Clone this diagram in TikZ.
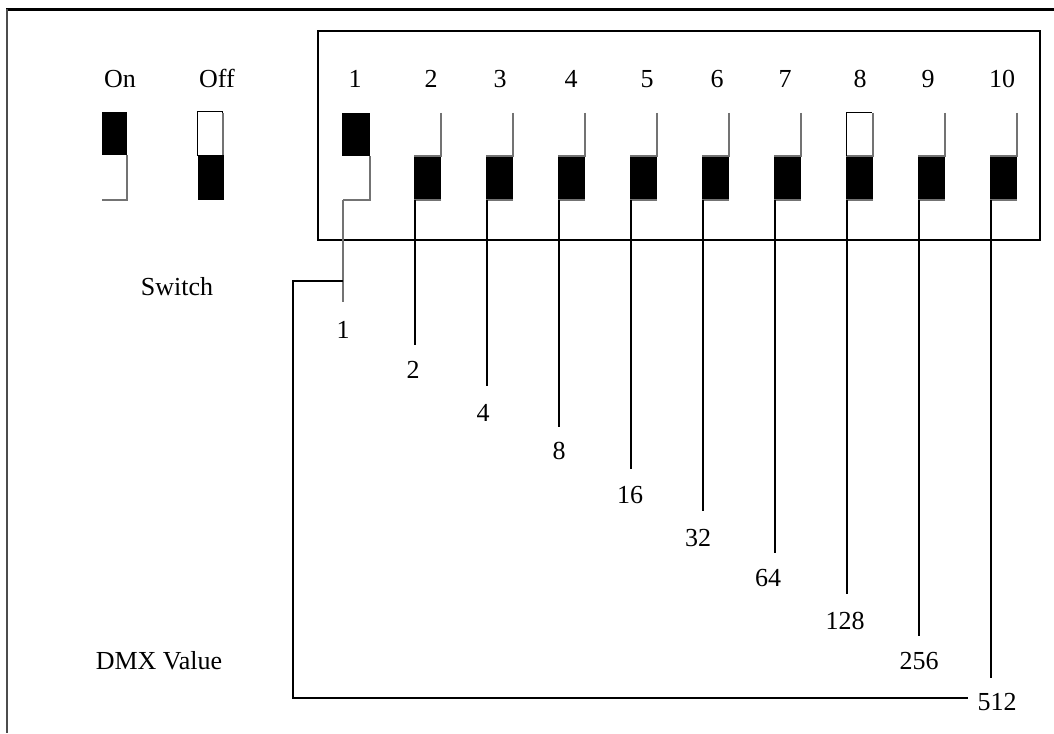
\documentclass[tikz,border=0pt]{standalone}
\usepackage{fontspec}
\setmainfont{Liberation Serif}
\begin{document}
\begin{tikzpicture}[x=1pt,y=-1pt,
  lbl/.style={font=\fontsize{26}{30}\selectfont, inner sep=0pt, anchor=base},
  wire/.style={line width=2.4pt},
  gwire/.style={line width=2.2pt, draw=black!55},
  edge/.style={line width=1.4pt, draw=black!55},
  frame/.style={line width=2.5pt}]
\useasboundingbox (0,0) rectangle (1054,733);
\fill[white] (0,0) rectangle (1054,733);
% outer frame (top and left only visible)
\draw[line width=3pt] (6,10) -- (1054,10);
\draw[line width=2pt, draw=black!70] (7,9) -- (7,733);
% DIP housing
\draw[frame] (318,31) rectangle (1040,240);
% legend labels
\node[lbl] (on) at (120,88) {On};
\node[lbl] (off) at (217,88) {Off};
\node[lbl] (sw) at (177,295) {Switch};
\node[lbl] (dmx) at (159,669) {DMX Value};
% legend switches
\fill (102,112) rectangle (127,155);
\draw[edge] (127,155) -- (127,200) -- (102,200);
\draw[line width=1pt] (197,112) rectangle (222,155);
\draw[edge] (223,113) -- (223,155);
\fill (198,155) rectangle (224,200);
% switch numbers
\foreach \n/\x in {1/355,2/431,3/500,4/571,5/647,6/717,7/785,8/860,9/928,10/1002}
  \node[lbl] (num\n) at (\x,88) {\n};
% switch 1 (on)
\fill (342,113) rectangle (370,156);
\draw[edge] (370,156) -- (370,200) -- (343,200);
% switches 2..10 (off)
\foreach \i/\L in {2/414,3/486,4/558,5/630,6/702,7/774,8/846,9/918,10/990}{
  \fill (\L,156) rectangle ({\L+27},200);
  \draw[edge] ({\L+27},113) -- ({\L+27},156) -- (\L,156);
  \draw[edge] ({\L+27},200) -- (\L,200);
}
\draw[line width=1pt] (846,113) -- (846,156);
\draw[line width=1pt] (846,113) -- (872,113);
% wire start / end coordinates and value labels
\foreach \i/\L/\b/\v/\lx/\ly in {1/343/302/1/343/338,2/415/345/2/413/378,3/487/386/4/483/421,4/559/427/8/559/459,5/631/469/16/630/503,6/703/511/32/698/546,7/775/553/64/768/586,8/847/594/128/845/629,9/919/636/256/919/669,10/991/678/512/997/710}{
  \coordinate (s\i) at (\L,200);
  \coordinate (e\i) at (\L,\b);
  \node[lbl] (v\i) at (\lx,\ly) {\v};
}
\draw[gwire] (s1) -- (e1);
\foreach \i in {2,...,10}
  \draw[wire] (s\i) -- (e\i);
% bracket from switch 1 wire to DMX value line
\coordinate (b1) at (343,281);
\coordinate (b2) at (293,281);
\coordinate (b3) at (293,698);
\coordinate (b4) at (968,698);
\draw[line width=2.6pt] (b1) -- (b2) -- (b3) -- (b4);
\end{tikzpicture}
\end{document}
